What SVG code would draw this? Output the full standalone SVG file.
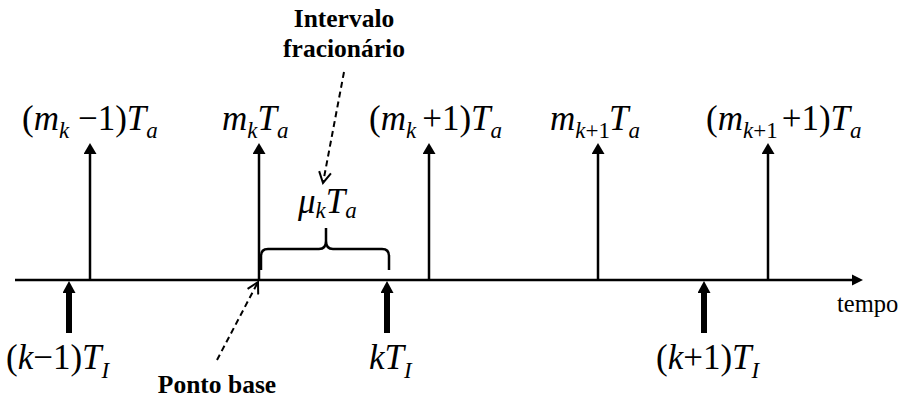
<svg xmlns="http://www.w3.org/2000/svg" width="902" height="399" viewBox="0 0 902 399">
<style>
.ax{stroke:#000;stroke-width:2.5;fill:none}
.thin{stroke:#000;stroke-width:2.5;fill:none}
.thick{stroke:#000;stroke-width:6;fill:none}
.dash{stroke:#000;stroke-width:2;stroke-dasharray:6 4;fill:none}
text{font-family:"Liberation Serif","Times New Roman",serif;fill:#000}
.m{font-size:35px}
.i{font-style:italic}
.s{font-size:23px}
.b{font-size:25.5px;font-weight:bold}
.r{font-size:24.5px}
</style>
<defs>
<marker id="ah" markerWidth="13" markerHeight="11" refX="6.5" refY="10" orient="0" markerUnits="userSpaceOnUse"><path d="M0,11 L6.5,0 L13,11 Z" fill="#000"/></marker>
<marker id="tk" markerWidth="13" markerHeight="12" refX="6.5" refY="11" orient="0" markerUnits="userSpaceOnUse"><path d="M0,12 L6.5,0 L13,12 Z" fill="#000"/></marker>
<marker id="v" markerWidth="14" markerHeight="14" refX="12" refY="7" orient="auto" markerUnits="userSpaceOnUse"><path d="M1,1 L12,7 L1,13" fill="none" stroke="#000" stroke-width="2"/></marker>
</defs>
<g id="connectors">
<line class="ax" x1="15" y1="280" x2="853" y2="280"/>
<path d="M852,274.5 L863,280 L852,285.5 Z" fill="#000"/>
<line class="thin" x1="90" y1="280" x2="90" y2="153" marker-end="url(#ah)"/>
<line class="thin" x1="259" y1="280" x2="259" y2="153" marker-end="url(#ah)"/>
<line class="thin" x1="429" y1="280" x2="429" y2="153" marker-end="url(#ah)"/>
<line class="thin" x1="598" y1="280" x2="598" y2="153" marker-end="url(#ah)"/>
<line class="thin" x1="768" y1="280" x2="768" y2="153" marker-end="url(#ah)"/>
<line class="thick" x1="69" y1="333" x2="69" y2="292" marker-end="url(#tk)"/>
<line class="thick" x1="387" y1="333" x2="387" y2="292" marker-end="url(#tk)"/>
<line class="thick" x1="704" y1="333" x2="704" y2="292" marker-end="url(#tk)"/>
<path class="thin" d="M261,270 L261,256 Q261,249 268,249 L319,249 Q326,249 326,241 L326,228 M326,241 Q326,249 333,249 L382,249 Q389,249 389,256 L389,270"/>
<line class="dash" x1="344" y1="72" x2="323" y2="183" marker-end="url(#v)"/>
<line class="dash" x1="217" y1="360" x2="258" y2="282" marker-end="url(#v)"/>
</g>
<g id="top-labels">
<text class="m" x="22" y="130">(<tspan class="i">m</tspan><tspan class="i s" dy="8">k</tspan><tspan dy="-8"> −1)</tspan><tspan class="i">T</tspan><tspan class="i s" dy="8">a</tspan></text>
<text class="m" x="222" y="130"><tspan class="i">m</tspan><tspan class="i s" dy="8">k</tspan><tspan class="i" dy="-8">T</tspan><tspan class="i s" dy="8">a</tspan></text>
<text class="m" x="369" y="130">(<tspan class="i">m</tspan><tspan class="i s" dy="8">k</tspan><tspan dy="-8" dx="6">+1)</tspan><tspan class="i">T</tspan><tspan class="i s" dy="8">a</tspan></text>
<text class="m" x="550" y="130"><tspan class="i">m</tspan><tspan class="s" dy="8"><tspan class="i">k</tspan>+1</tspan><tspan class="i" dy="-8" dx="-1">T</tspan><tspan class="i s" dy="8">a</tspan></text>
<text class="m" x="706" y="130">(<tspan class="i">m</tspan><tspan class="s" dy="8"><tspan class="i">k</tspan>+1</tspan><tspan dy="-8" dx="4">+1)</tspan><tspan class="i">T</tspan><tspan class="i s" dy="8">a</tspan></text>
</g>
<g id="mu-label">
<text class="m" x="298" y="213"><tspan class="i">μ</tspan><tspan class="i s" dy="5">k</tspan><tspan class="i" dy="-5">T</tspan><tspan class="i s" dy="5">a</tspan></text>
</g>
<g id="bottom-labels">
<text class="m" x="6" y="369">(<tspan class="i">k</tspan>−1)<tspan class="i">T</tspan><tspan class="i s" dy="9">I</tspan></text>
<text class="m" x="369" y="369"><tspan class="i">kT</tspan><tspan class="i s" dy="9">I</tspan></text>
<text class="m" x="656" y="369">(<tspan class="i">k</tspan>+1)<tspan class="i">T</tspan><tspan class="i s" dy="9">I</tspan></text>
</g>
<g id="intervalo">
<text class="b" x="344" y="27" text-anchor="middle">Intervalo</text>
<text class="b" x="344" y="57" text-anchor="middle">fracionário</text>
</g>
<g id="ponto-base">
<text class="b" x="217" y="393" text-anchor="middle">Ponto base</text>
</g>
<g id="tempo">
<text class="r" x="837" y="312">tempo</text>
</g>
</svg>
